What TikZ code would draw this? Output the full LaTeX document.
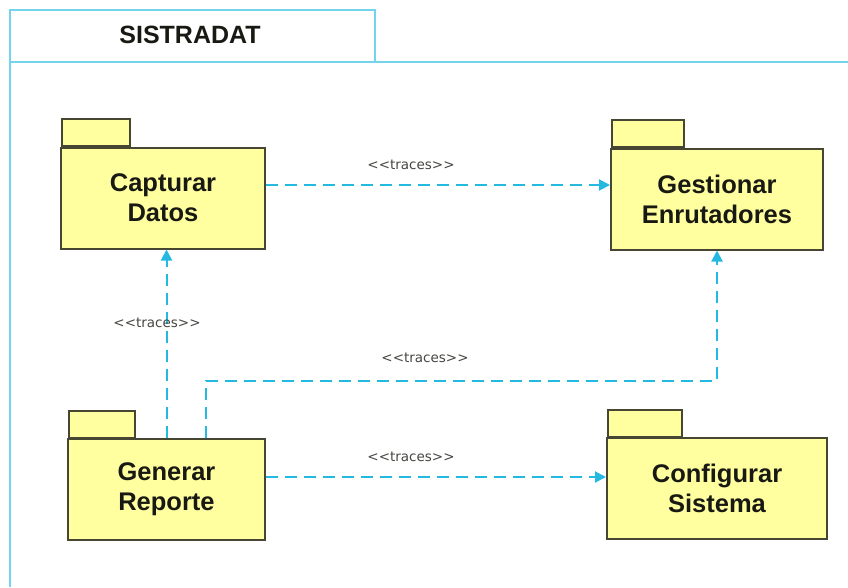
\documentclass[tikz,border=0pt]{standalone}
\usepackage{fontspec}
\setmainfont{Liberation Sans}
\newfontfamily\lblfont{DejaVu Sans}
\usetikzlibrary{arrows.meta}
\definecolor{pkgfill}{RGB}{255,255,160}
\definecolor{pkgline}{RGB}{70,70,50}
\definecolor{framecol}{RGB}{115,212,235}
\definecolor{tracecol}{RGB}{35,185,225}
\definecolor{inkcol}{RGB}{25,25,20}
\tikzset{
  pkgbody/.style={draw=pkgline, fill=pkgfill, line width=2pt, minimum width=#1, minimum height=101pt,
    inner sep=0pt, align=center, text=inkcol, font=\bfseries\fontsize{25.5}{30}\selectfont},
  pkgtab/.style={draw=pkgline, fill=pkgfill, line width=2pt, minimum width=#1, minimum height=27pt,
    inner sep=0pt, anchor=south west},
  trace/.style={draw=tracecol, line width=2pt, dash pattern=on 12pt off 7pt,
    -{Triangle[length=11pt,width=11pt]}},
  tracelbl/.style={font=\lblfont\fontsize{13.5}{15}\selectfont, text=inkcol!80},
  framestyle/.style={draw=framecol, line width=2.2pt}
}
\begin{document}
\begin{tikzpicture}[x=1pt,y=-1pt]
  \fill[white] (0,0) rectangle (848,587);
  \useasboundingbox (0,0) rectangle (848,587);

  % diagram frame with its name tab
  \draw[framestyle] (10,587) -- (10,10) -- (375,10) -- (375,62);
  \draw[framestyle] (10,62) -- (848,62);
  \node[font=\bfseries\fontsize{25}{28}\selectfont, text=inkcol] (title) at (190,35) {SISTRADAT};

  % packages
  \node[pkgtab=68pt] (captab) at (61,147) {};
  \node[pkgbody=204pt] (cap) at (163,198) {Capturar\\Datos};

  \node[pkgtab=72pt] (gestab) at (611,148) {};
  \node[pkgbody=212pt] (ges) at (717,199) {Gestionar\\Enrutadores};

  \node[pkgtab=66pt] (gentab) at (68,439) {};
  \node[pkgbody=197pt] (gen) at (166.5,489.5) {Generar\\Reporte};

  \node[pkgtab=74pt] (contab) at (607,438) {};
  \node[pkgbody=220pt] (con) at (717,488.5) {Configurar\\Sistema};

  % trace dependencies
  \draw[trace] ([yshift=13pt]cap.east) -- ([yshift=14pt]ges.west);
  \node[tracelbl] (l1) at (411,165) {<\kern0pt<traces>\kern0pt>};
  \draw[trace] (gen.north) -- (gen.north |- cap.south);
  \node[tracelbl] (l2) at (157,323) {<\kern0pt<traces>\kern0pt>};
  \coordinate (bend) at (206,381);
  \draw[trace] (gen.north -| bend) -- (bend) -| (ges.south);
  \node[tracelbl] (l3) at (425,358) {<\kern0pt<traces>\kern0pt>};
  \draw[trace] ([yshift=12.5pt]gen.east) -- ([yshift=11.5pt]con.west);
  \node[tracelbl] (l4) at (411,457) {<\kern0pt<traces>\kern0pt>};
\end{tikzpicture}
\end{document}
